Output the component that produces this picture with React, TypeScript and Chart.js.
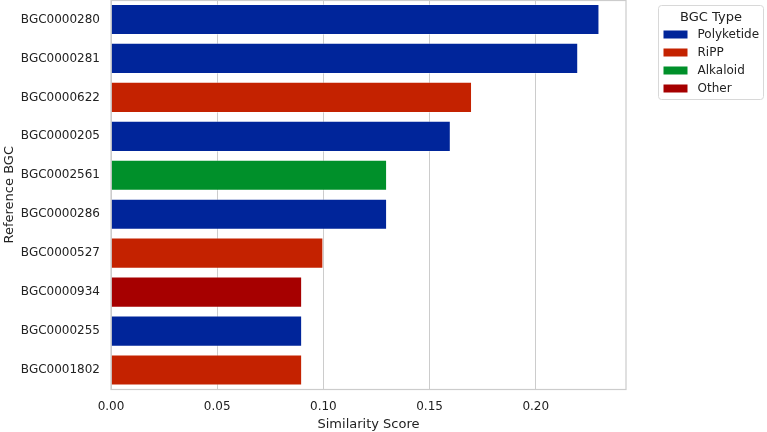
import React, { useEffect, useRef } from "react";
import { Chart, registerables } from "chart.js";

Chart.register(...registerables);

const categories = [
  "BGC0000280",
  "BGC0000281",
  "BGC0000622",
  "BGC0000205",
  "BGC0002561",
  "BGC0000286",
  "BGC0000527",
  "BGC0000934",
  "BGC0000255",
  "BGC0001802",
];
const bgcTypes = [
  "Polyketide",
  "Polyketide",
  "RiPP",
  "Polyketide",
  "Alkaloid",
  "Polyketide",
  "RiPP",
  "Other",
  "Polyketide",
  "RiPP",
];
const scores = [0.23, 0.22, 0.17, 0.16, 0.13, 0.13, 0.1, 0.09, 0.09, 0.09];
const typeOrder = ["Polyketide", "RiPP", "Alkaloid", "Other"];
const typeColors = ["#00259a", "#c42200", "#00902a", "#a60000"];
const xTicks = [0, 0.05, 0.1, 0.15, 0.2];

const FONT = "'DejaVu Sans', sans-serif";
const SPINE = "#cccccc";

// Frame around the plot area plus the boxed legend on the right
const framePlugin = {
  id: "frameAndLegend",
  afterDraw(chart: any) {
    const ctx = chart.ctx;
    const a = chart.chartArea;
    ctx.save();
    ctx.strokeStyle = SPINE;
    ctx.lineWidth = 1.2;
    ctx.strokeRect(a.left, a.top + 0.5, a.right - a.left, a.bottom - a.top - 0.5);

    // legend box
    const bx = 658.5, by = 5.5, bw = 105, bh = 94;
    ctx.fillStyle = "rgba(255,255,255,0.85)";
    ctx.strokeStyle = "#d8d8d8";
    ctx.lineWidth = 1;
    ctx.beginPath();
    ctx.roundRect ? ctx.roundRect(bx, by, bw, bh, 3) : ctx.rect(bx, by, bw, bh);
    ctx.fill();
    ctx.stroke();

    ctx.fillStyle = "#222222";
    ctx.textAlign = "center";
    ctx.textBaseline = "middle";
    ctx.font = `13px ${FONT}`;
    ctx.fillText("BGC Type", bx + bw / 2, by + 12);

    ctx.font = `12px ${FONT}`;
    ctx.textAlign = "left";
    chart.data.datasets.forEach((ds: any, i: number) => {
      const y = by + 29 + i * 18;
      ctx.fillStyle = ds.backgroundColor;
      ctx.fillRect(bx + 5, y - 4, 24, 8);
      ctx.fillStyle = "#222222";
      ctx.fillText(ds.label, bx + 39, y);
    });
    ctx.restore();
  },
};

export default function App() {
  const ref = useRef<HTMLCanvasElement>(null);

  useEffect(() => {
    document.body.style.margin = "0";
    const canvas = ref.current!;
    const datasets = typeOrder.map((t, i) => ({
      label: t,
      data: scores.map((v, j) => (bgcTypes[j] === t ? v : null)),
      backgroundColor: typeColors[i],
      borderColor: "rgba(255,255,255,0.35)",
      borderWidth: 1,
      categoryPercentage: 0.8,
      barPercentage: 1,
    }));

    const chart = new Chart(canvas, {
      type: "bar",
      data: { labels: categories, datasets },
      options: {
        indexAxis: "y",
        animation: false,
        responsive: false,
        layout: { padding: { left: 0, right: 141, top: 0, bottom: 0 } },
        plugins: {
          legend: { display: false },
          tooltip: { enabled: false },
        },
        scales: {
          x: {
            stacked: true,
            min: 0,
            max: 0.2425,
            afterBuildTicks(axis: any) {
              axis.ticks = xTicks.map((v) => ({ value: v }));
            },
            afterFit(axis: any) {
              axis.height = 42.5;
              axis.paddingLeft = 0;
              axis.paddingRight = 0;
            },
            grid: { color: SPINE, lineWidth: 1, drawTicks: false },
            border: { display: false },
            ticks: {
              padding: 10,
              color: "#222222",
              font: { family: FONT, size: 12 },
              callback: (v: any) => Number(v).toFixed(2),
            },
            title: {
              display: true,
              text: "Similarity Score",
              color: "#222222",
              font: { family: FONT, size: 13 },
              padding: { top: 1, bottom: 0 },
            },
          },
          y: {
            stacked: true,
            afterFit(axis: any) {
              axis.width = 111;
              axis.paddingTop = 0;
              axis.paddingBottom = 0;
            },
            grid: { display: false, drawTicks: false },
            border: { display: false },
            ticks: {
              padding: 11,
              color: "#222222",
              font: { family: FONT, size: 12 },
            },
            title: {
              display: true,
              text: "Reference BGC",
              color: "#222222",
              font: { family: FONT, size: 13 },
              padding: { top: 2, bottom: 2 },
            },
          },
        },
      },
      plugins: [framePlugin],
    });
    return () => chart.destroy();
  }, []);

  return <canvas ref={ref} width={767} height={432} style={{ display: "block" }} />;
}
